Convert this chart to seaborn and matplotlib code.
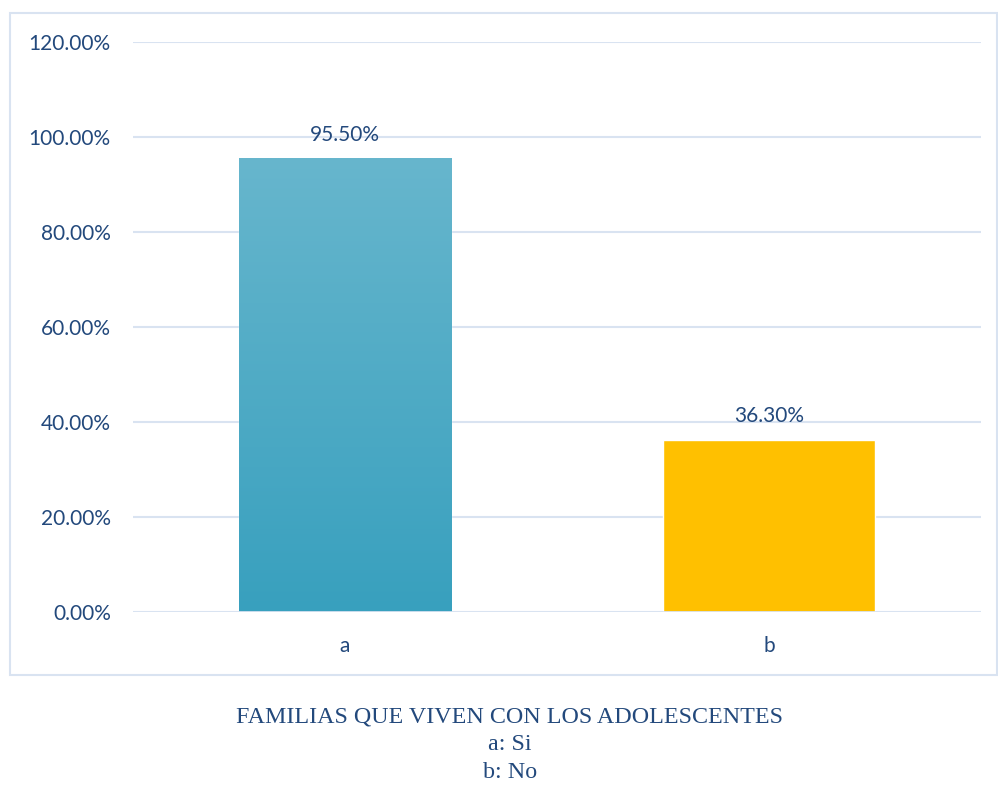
import numpy as np
import pandas as pd
import matplotlib
matplotlib.use("Agg")
import matplotlib.pyplot as plt
from matplotlib.colors import LinearSegmentedColormap
from matplotlib.patches import Rectangle
from matplotlib.ticker import FuncFormatter
import seaborn as sns

categorias = ["a", "b"]
porcentajes = [0.955, 0.363]
etiquetas = ["95.50%", "36.30%"]
colores = ["#4FAFC9", "#FFC000"]
titulo = ["FAMILIAS QUE VIVEN CON LOS ADOLESCENTES", "a: Si", "b: No"]

texto = "#23497C"
rejilla = "#D9E3F1"

sns.set_theme(style="white")
plt.rcParams['font.family'] = ['Lato', 'DejaVu Sans']

fig = plt.figure(figsize=(9.98, 7.87), dpi=100)
ax = fig.add_axes([0.1333, 0.2224, 0.8497, 0.7242])

df = pd.DataFrame({"cat": categorias, "val": porcentajes})
sns.barplot(data=df, x="cat", y="val", hue="cat", palette=colores,
            width=0.5, saturation=1, legend=False, ax=ax, zorder=3)

# degradado en la barra "a"
barra = ax.patches[0]
x0, y0 = barra.get_x(), barra.get_y()
w, h = barra.get_width(), barra.get_height()
cmap = LinearSegmentedColormap.from_list("azul", ["#38A0BE", "#67B6CD"])
grad = np.linspace(0, 1, 256).reshape(-1, 1)
img = ax.imshow(grad, cmap=cmap, origin="lower", aspect="auto",
                extent=[x0, x0 + w, y0, y0 + h], zorder=4)
img.set_clip_path(barra)
ax.set_xlim(-0.5, 1.5)

ax.set_ylim(0, 1.2)
ax.set_yticks(np.arange(0, 1.21, 0.2))
ax.yaxis.set_major_formatter(FuncFormatter(lambda v, p: f"{v*100:.2f}%"))
ax.grid(axis="y", color=rejilla, linewidth=1.5, zorder=0)
ax.set_axisbelow(True)
for s in ax.spines.values():
    s.set_visible(False)
ax.axhline(0, color=rejilla, linewidth=2, zorder=5)
ax.tick_params(axis="y", length=0, pad=16, labelsize=15, labelcolor=texto)
ax.tick_params(axis="x", length=0, pad=17, labelsize=15, labelcolor=texto)
ax.set_xlabel("")
ax.set_ylabel("")

for i, (v, t) in enumerate(zip(porcentajes, etiquetas)):
    ax.annotate(t, (i, v), xytext=(0, 10), textcoords="offset points",
                ha="center", va="bottom", fontsize=15, color=texto)

# marco exterior
fig.patches.append(Rectangle((10 / 998, 1 - 675 / 787), 987 / 998, 662 / 787,
                             transform=fig.transFigure, fill=False,
                             edgecolor=rejilla, linewidth=1.5))

for k, (t, yy) in enumerate(zip(titulo, [717, 745, 773])):
    fig.text(510 / 998, 1 - yy / 787, t, ha="center", va="center",
             fontsize=17.3, color=texto, family=["Liberation Serif"])

fig.savefig("out.png", dpi=100)
